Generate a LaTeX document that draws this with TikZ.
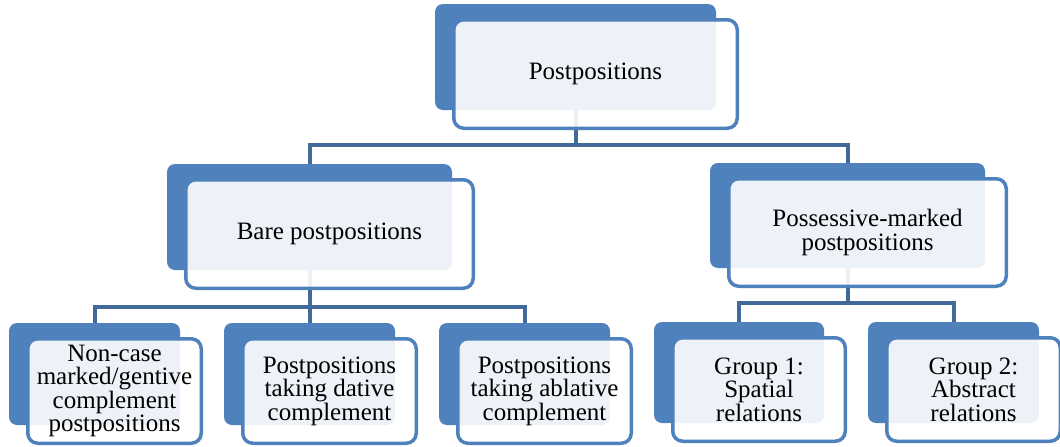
\documentclass[tikz,border=0pt]{standalone}
\usepackage{fontspec}
\setmainfont{Liberation Serif}
\definecolor{accent}{HTML}{4F81BD}
\definecolor{conncol}{HTML}{41699A}
\tikzset{
  x=1pt, y=-1pt,
  darkbox/.style={fill=accent, draw=none, rounded corners=8pt, inner sep=0pt, outer sep=0pt},
  frontbox/.style={fill=white, fill opacity=0.9, text opacity=1, draw=accent, draw opacity=1,
    line width=3.5pt, rounded corners=10pt, inner sep=0pt, outer sep=0pt, align=center,
    font=\fontsize{25}{23.5}\selectfont},
  conn/.style={draw=conncol, line width=4pt},
}
% name, x1, y1, x2, y2, text
\newcommand\smnode[6]{%
  \node[darkbox, minimum width={(#4-#2)*1pt}, minimum height={(#5-#3)*1pt}]
    (#1D) at ({(#2+#4)/2},{(#3+#5)/2}) {};
  \node[frontbox, minimum width={(#4-#2+2.5)*1pt}, minimum height={(#5-#3+2.5)*1pt}]
    (#1F) at ({(#2+#4)/2+20},{(#3+#5)/2+17}) {#6};
}
\begin{document}
\begin{tikzpicture}
\useasboundingbox (0,0) rectangle (1060,447);
% connectors (drawn first, faintly visible through the front boxes)
\coordinate (topbar) at (0,145);
\coordinate (barebar) at (0,307);
\coordinate (possbar) at (0,303);
\path (575.5,57) coordinate (topC);
\path (309.5,217) coordinate (bareC);
\path (847.5,215.5) coordinate (possC);
\draw[conn] (309.5,164) |- (topC |- topbar) -- (topC);
\draw[conn] (847.5,163) |- (topC |- topbar);
\draw[conn] (94.5,323) |- (bareC |- barebar) -- (bareC);
\draw[conn] (309.5,323) -- (bareC |- barebar);
\draw[conn] (524.5,323) |- (bareC |- barebar);
\draw[conn] (739,322) |- (possC |- possbar) -- (possC);
\draw[conn] (953.5,322) |- (possC |- possbar);
% nodes
\smnode{top}{435}{4}{716}{110}{Postpositions}
\smnode{bare}{167}{164}{452}{270}{Bare postpositions}
\smnode{poss}{710}{163}{985}{268}{Possessive-marked\\postpositions}
\smnode{na}{9}{323}{180}{425}{Non-case\\marked/gentive\\complement\\postpositions}
\smnode{nb}{224}{323}{395}{425}{Postpositions\\taking dative\\complement}
\smnode{nc}{439}{323}{610}{425}{Postpositions\\taking ablative\\complement}
\smnode{ga}{654}{322}{824}{423}{Group 1:\\Spatial\\relations}
\smnode{gb}{868}{322}{1039}{423}{Group 2:\\Abstract\\relations}
\end{tikzpicture}
\end{document}
